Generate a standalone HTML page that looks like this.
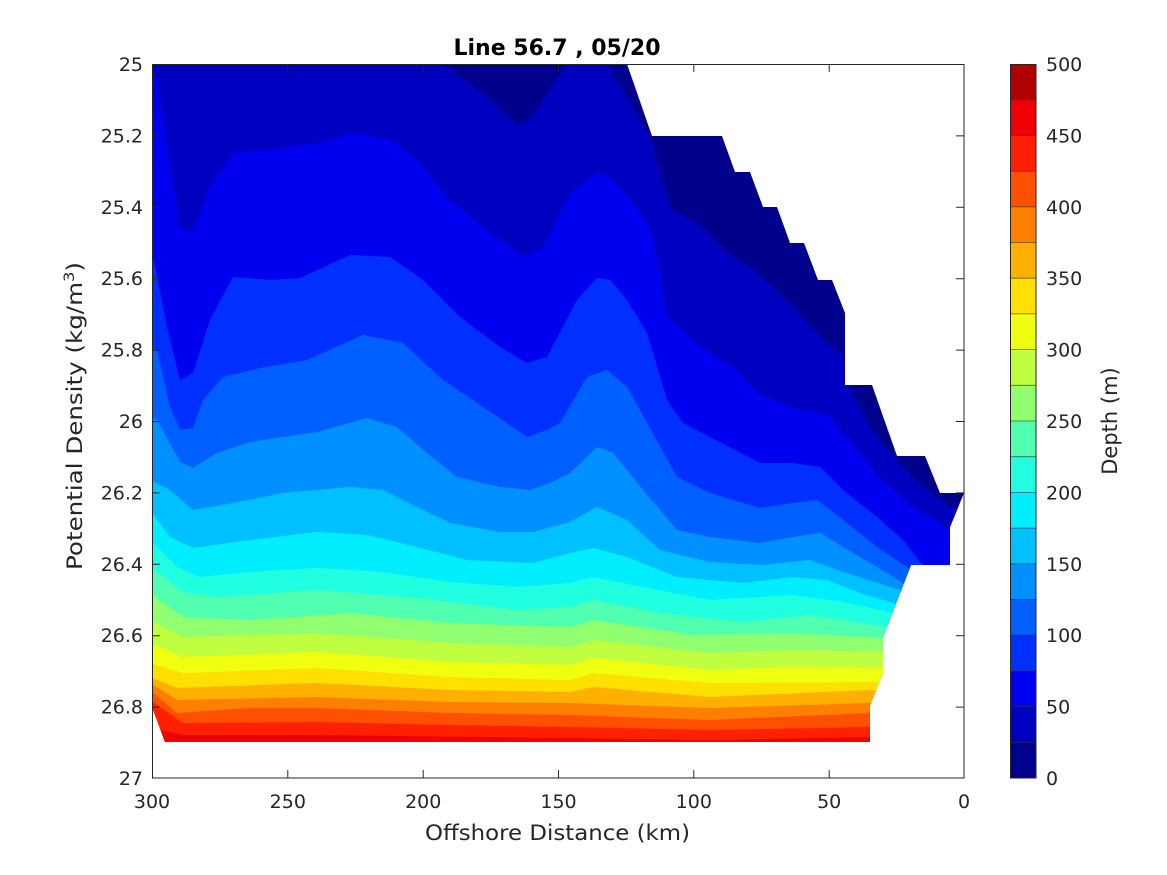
<!DOCTYPE html>
<html><head><meta charset="utf-8"><style>
html,body{margin:0;padding:0;background:#fff;}
svg{display:block;font-family:"DejaVu Sans","Liberation Sans",sans-serif;}
</style></head><body>
<svg width="1167" height="875" viewBox="0 0 1167 875" xmlns="http://www.w3.org/2000/svg">
<defs>
<clipPath id="data"><polygon points="152,64 627,64 652,136 722,136 735,172 750,172 763,207 777,207 790,243 804,243 818,280 832,280 845,313 845,385 872,385 897,456 925,456 940,493 964,493 950,527 950,565 911,565 883,637 883,673 870,706 870,742 165,742 152,707"/></clipPath>
</defs>
<rect width="1167" height="875" fill="#fff"/>
<g clip-path="url(#data)">
<rect x="140" y="50" width="840" height="720" fill="#00008c"/>
<polygon fill="#0000c0" points="140,55 443,55 443,64 483,93 518,125 533,117 555,80 567,64 600,55 607,64 650,136 671,208 701,226 728,253 755,271 789,302 809,325 836,351 842,352 850,387 870,427 893,457 923,487 950,507 975,505 975,760 140,760"/>
<polygon fill="#0000f0" points="140,60 152,64 157,80 180,227 192,233 210,187 233,153 283,148 317,143 357,133 390,140 417,160 450,200 483,227 523,257 543,247 570,193 597,173 610,177 630,200 650,227 660,271 667,316 700,347 733,367 760,395 793,408 827,415 850,440 877,475 910,505 950,530 975,540 975,760 140,760"/>
<polygon fill="#0030ff" points="140,245 153,257 167,327 180,380 193,373 210,320 233,277 273,280 300,278 350,255 390,257 423,280 460,317 500,347 527,363 547,357 577,300 597,278 610,280 627,300 647,333 667,400 683,423 710,437 760,463 793,463 820,467 843,490 877,517 903,540 920,562 975,600 975,760 140,760"/>
<polygon fill="#0060ff" points="140,345 157,350 170,407 180,430 193,428 203,400 223,377 260,368 307,360 363,335 403,343 443,380 483,407 527,437 547,430 560,423 587,377 607,370 627,387 647,423 677,477 710,493 760,508 793,503 817,500 843,520 877,547 907,567 975,600 975,760 140,760"/>
<polygon fill="#0090ff" points="140,415 157,420 180,462 193,468 217,453 250,442 317,432 367,418 397,427 423,450 457,477 500,487 530,490 550,483 570,473 597,447 613,453 643,490 677,530 710,537 760,543 793,537 820,533 843,547 877,567 903,583 975,620 975,760 140,760"/>
<polygon fill="#00c0ff" points="140,478 150,480 170,490 193,510 233,503 283,493 350,487 383,490 417,507 450,523 500,532 533,532 570,522 597,507 627,520 660,550 710,562 760,565 810,560 843,572 900,590 975,620 975,760 140,760"/>
<polygon fill="#00eeff" points="140,508 150,510 170,537 193,548 250,540 317,532 367,535 417,547 467,560 533,563 570,553 593,548 627,557 677,577 743,583 793,577 827,580 860,593 893,603 975,630 975,760 140,760"/>
<polygon fill="#20ffe0" points="140,538 150,540 177,567 200,577 250,572 317,568 383,572 450,582 517,587 570,583 593,577 643,587 710,600 793,595 843,602 893,613 975,640 975,760 140,760"/>
<polygon fill="#50ffb0" points="140,563 150,567 183,592 217,597 317,590 417,598 517,610 570,607 593,600 660,613 743,622 810,615 887,627 975,650 975,760 140,760"/>
<polygon fill="#90ff70" points="140,590 150,593 183,617 250,620 350,613 450,623 570,627 593,620 693,635 793,633 883,638 975,660 975,760 140,760"/>
<polygon fill="#c0ff40" points="140,618 150,620 183,637 317,633 450,643 570,647 593,640 710,653 793,650 883,652 975,670 975,760 140,760"/>
<polygon fill="#f0ff10" points="140,641 150,643 183,657 317,652 450,662 570,665 593,658 710,670 793,667 883,668 975,680 975,760 140,760"/>
<polygon fill="#ffe000" points="140,661 150,663 183,673 317,668 450,677 570,680 593,673 710,683 883,682 975,690 975,760 140,760"/>
<polygon fill="#ffb000" points="140,675 150,677 177,688 317,683 450,690 570,692 593,687 710,697 870,690 975,695 975,760 140,760"/>
<polygon fill="#ff8000" points="140,681 150,683 177,700 317,697 450,702 570,703 710,708 870,703 975,705 975,760 140,760"/>
<polygon fill="#ff5000" points="140,688 150,690 177,713 250,708 317,708 450,713 570,715 710,720 870,713 975,715 975,760 140,760"/>
<polygon fill="#ff2000" points="140,698 150,700 183,723 317,722 450,725 570,727 710,730 870,727 975,727 975,760 140,760"/>
<polygon fill="#f00000" points="140,728 160,730 183,735 317,735 570,738 710,740 870,737 975,737 975,760 140,760"/>
</g>
<rect x="152.5" y="64.5" width="811.5" height="713.5" fill="none" stroke="#262626" stroke-width="1"/>
<g stroke="#262626" stroke-width="1">
<path d="M152.5,778v-8M287.8,778v-8M423.2,778v-8M558.5,778v-8M693.8,778v-8M829.2,778v-8M964,778v-8"/>
<path d="M152.5,64v8M287.8,64v8M423.2,64v8M558.5,64v8M693.8,64v8M829.2,64v8M964,64v8"/>
<path d="M152,64.5h8M152,135.9h8M152,207.3h8M152,278.7h8M152,350.1h8M152,421.5h8M152,492.9h8M152,564.3h8M152,635.7h8M152,707.1h8M152,778h8"/>
<path d="M964,64.5h-8M964,135.9h-8M964,207.3h-8M964,278.7h-8M964,350.1h-8M964,421.5h-8M964,492.9h-8M964,564.3h-8M964,635.7h-8M964,707.1h-8"/>
</g>
<g font-size="19" fill="#262626" text-anchor="middle">
<text x="152" y="808">300</text><text x="287.8" y="808">250</text><text x="423.2" y="808">200</text><text x="558.5" y="808">150</text><text x="693.8" y="808">100</text><text x="829.2" y="808">50</text><text x="964" y="808">0</text>
</g>
<g font-size="19" fill="#262626" text-anchor="end">
<text x="143" y="71">25</text><text x="143" y="142.4">25.2</text><text x="143" y="213.8">25.4</text><text x="143" y="285.2">25.6</text><text x="143" y="356.6">25.8</text><text x="143" y="428">26</text><text x="143" y="499.4">26.2</text><text x="143" y="570.8">26.4</text><text x="143" y="642.2">26.6</text><text x="143" y="713.6">26.8</text><text x="143" y="785">27</text>
</g>
<text x="425" y="840" font-size="21" fill="#262626" textLength="265" lengthAdjust="spacingAndGlyphs">Offshore Distance (km)</text>
<text transform="translate(82,570) rotate(-90)" font-size="21" fill="#262626" textLength="308" lengthAdjust="spacingAndGlyphs">Potential Density (kg/m<tspan dy="-8" font-size="14">3</tspan><tspan dy="8">)</tspan></text>
<text x="557" y="55" font-size="22" font-weight="bold" fill="#000" text-anchor="middle">Line 56.7 , 05/20</text>
<g>
<rect x="1010" y="742.3" width="26" height="35.7" fill="#00008c"/>
<rect x="1010" y="706.6" width="26" height="35.7" fill="#0000c0"/>
<rect x="1010" y="670.9" width="26" height="35.7" fill="#0000f0"/>
<rect x="1010" y="635.2" width="26" height="35.7" fill="#0030ff"/>
<rect x="1010" y="599.5" width="26" height="35.7" fill="#0060ff"/>
<rect x="1010" y="563.8" width="26" height="35.7" fill="#0090ff"/>
<rect x="1010" y="528.1" width="26" height="35.7" fill="#00c0ff"/>
<rect x="1010" y="492.4" width="26" height="35.7" fill="#00eeff"/>
<rect x="1010" y="456.7" width="26" height="35.7" fill="#20ffe0"/>
<rect x="1010" y="421" width="26" height="35.7" fill="#50ffb0"/>
<rect x="1010" y="385.3" width="26" height="35.7" fill="#90ff70"/>
<rect x="1010" y="349.6" width="26" height="35.7" fill="#c0ff40"/>
<rect x="1010" y="313.9" width="26" height="35.7" fill="#f0ff10"/>
<rect x="1010" y="278.2" width="26" height="35.7" fill="#ffe000"/>
<rect x="1010" y="242.5" width="26" height="35.7" fill="#ffb000"/>
<rect x="1010" y="206.8" width="26" height="35.7" fill="#ff8000"/>
<rect x="1010" y="171.1" width="26" height="35.7" fill="#ff5000"/>
<rect x="1010" y="135.4" width="26" height="35.7" fill="#ff2000"/>
<rect x="1010" y="99.7" width="26" height="35.7" fill="#f00000"/>
<rect x="1010" y="64" width="26" height="35.7" fill="#b00000"/>
<g stroke="#262626" stroke-width="0.8" opacity="0.7">
<path d="M1010,742.3h26M1010,706.6h26M1010,670.9h26M1010,635.2h26M1010,599.5h26M1010,563.8h26M1010,528.1h26M1010,492.4h26M1010,456.7h26M1010,421h26M1010,385.3h26M1010,349.6h26M1010,313.9h26M1010,278.2h26M1010,242.5h26M1010,206.8h26M1010,171.1h26M1010,135.4h26M1010,99.7h26"/>
</g>
<rect x="1010.5" y="64.5" width="25.5" height="713.5" fill="none" stroke="#262626" stroke-width="1"/>
</g>
<g font-size="19" fill="#262626">
<text x="1046" y="785">0</text><text x="1046" y="713.6">50</text><text x="1046" y="642.2">100</text><text x="1046" y="570.8">150</text><text x="1046" y="499.4">200</text><text x="1046" y="428">250</text><text x="1046" y="356.6">300</text><text x="1046" y="285.2">350</text><text x="1046" y="213.8">400</text><text x="1046" y="142.4">450</text><text x="1046" y="71">500</text>
</g>
<text transform="translate(1117,421) rotate(-90)" font-size="21" fill="#262626" text-anchor="middle">Depth (m)</text>
</svg>
</body></html>
